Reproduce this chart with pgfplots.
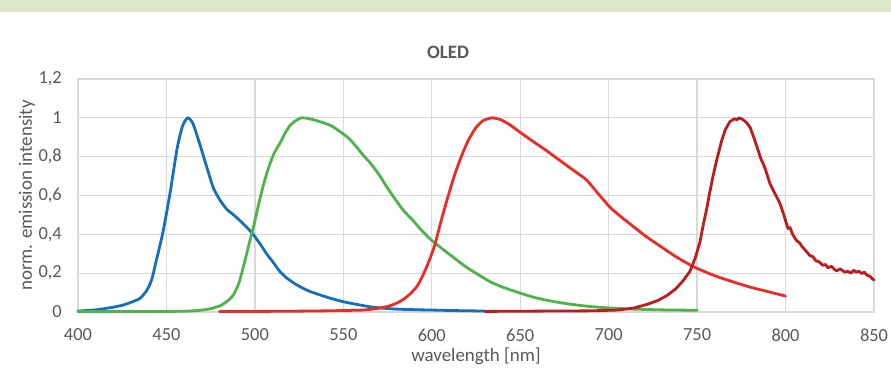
\documentclass[border=0pt]{standalone}
\usepackage{pgfplots}
\pgfplotsset{compat=1.18}
\usepackage{fontspec}
\setmainfont{Carlito}
\definecolor{bandcol}{RGB}{222,230,201}
\definecolor{gridgray}{RGB}{217,217,217}
\definecolor{txtgray}{RGB}{89,89,89}
\definecolor{cblue}{RGB}{23,110,190}
\definecolor{cgreen}{RGB}{76,180,72}
\definecolor{cred}{RGB}{237,42,36}
\definecolor{cdred}{RGB}{192,26,30}
\begin{document}
\begin{tikzpicture}[x=1bp,y=1bp]
\useasboundingbox (0,0) rectangle (891,372);
\fill[bandcol] (0,360) rectangle (891,372);
\node[font=\fontsize{19}{22}\selectfont\bfseries, text=txtgray] at (448,320) {OLED};
\begin{axis}[
  at={(78bp,60bp)}, anchor=south west,
  scale only axis, width=796bp, height=233bp,
  xmin=400, xmax=850, ymin=0, ymax=1.2,
  xtick={400,450,500,550,600,650,700,750,800,850},
  ytick={0,0.2,0.4,0.6,0.8,1,1.2},
  major tick length=0pt,
  grid=major,
  major grid style={draw=gridgray, line width=1.3bp},
  axis line style={draw=gridgray, line width=1.3bp},
  /pgf/number format/assume math mode=true,
  /pgf/number format/use comma,
  /pgf/number format/1000 sep={},
  tick label style={font=\fontsize{18.5}{21}\selectfont, text=txtgray},
  xticklabel style={anchor=center, yshift=-23bp},
  yticklabel style={anchor=east, inner sep=0pt, xshift=-16bp},
  xlabel={wavelength [nm]},
  ylabel={norm. emission intensity},
  every axis x label/.style={at={(axis description cs:0.5,-0.19)}, anchor=center, font=\fontsize{19}{22}\selectfont, text=txtgray},
  every axis y label/.style={at={(axis description cs:-0.0641,0.5)}, anchor=center, rotate=90, font=\fontsize{19}{22}\selectfont, text=txtgray},
  every axis plot/.append style={line width=2.8bp, line join=round, line cap=round, no markers},
  clip=false,
]
% blue
\addplot[cblue, smooth, tension=0.4] coordinates {
(400,0.005)(410,0.011)(420,0.025)(426,0.037)(430,0.05)(435,0.07)(438.8,0.11)(441.6,0.165)(444.4,0.27)(448,0.41)(452,0.61)(456,0.84)(459,0.955)(462,1.0)(465,0.97)(469,0.86)(473,0.74)(476.5,0.64)(480,0.58)(484,0.53)(488,0.50)(491.6,0.47)(495,0.44)(499,0.40)(503,0.35)(506.6,0.30)(510,0.26)(514,0.21)(518,0.175)(523.6,0.14)(530,0.11)(536.8,0.088)(543,0.07)(550,0.053)(557,0.04)(565,0.027)(572,0.02)(580,0.015)(590,0.012)(600,0.01)(615,0.007)(630,0.005)
};
% green
\addplot[cgreen, smooth, tension=0.4] coordinates {
(400,0.002)(420,0.002)(440,0.002)(460,0.004)(468,0.008)(474,0.015)(478,0.025)(481,0.035)(485,0.06)(488,0.09)(491,0.15)(494,0.25)(497,0.36)(499.5,0.45)(502,0.55)(505,0.66)(508,0.75)(511,0.82)(514.2,0.87)(517,0.92)(519.8,0.96)(523,0.985)(526.4,1.0)(531,0.995)(536.8,0.98)(543,0.96)(548,0.93)(553,0.895)(557.5,0.85)(561,0.81)(565,0.77)(570,0.71)(574.5,0.645)(579,0.585)(583.8,0.525)(589,0.475)(593.3,0.43)(598,0.385)(601.8,0.355)(610.3,0.295)(619.7,0.23)(633,0.156)(641,0.125)(650,0.097)(658,0.075)(667,0.057)(677,0.042)(687.5,0.03)(700,0.021)(714,0.015)(730,0.011)(750,0.009)
};
% red
\addplot[cred, smooth, tension=0.4] coordinates {
(480,0.003)(500,0.003)(520,0.004)(540,0.006)(561,0.01)(568,0.017)(574.5,0.027)(580,0.045)(584,0.065)(588,0.095)(591.5,0.13)(594,0.17)(597,0.23)(600,0.30)(602,0.355)(605,0.46)(608.4,0.57)(612,0.68)(615,0.76)(618,0.83)(621,0.89)(625,0.95)(629,0.985)(634,1.0)(639,0.99)(644,0.965)(650,0.925)(657,0.88)(665,0.83)(672.5,0.78)(680,0.73)(687.5,0.68)(694,0.61)(700.7,0.54)(707,0.49)(714,0.44)(721,0.39)(729,0.34)(738,0.285)(747.6,0.235)(755,0.205)(762,0.18)(770,0.156)(780,0.128)(790,0.105)(800,0.082)
};
% dark red
\addplot[cdred] coordinates {
(630,0.003)(650,0.004)(670,0.005)(690,0.006)(705,0.01)(714,0.02)(722,0.04)(728,0.06)(733,0.085)(738,0.12)(742,0.16)(746,0.21)(749,0.28)(751.6,0.36)(753.5,0.45)(755.4,0.53)(757,0.61)(759,0.70)(761,0.78)(763.8,0.88)(766,0.94)(768.5,0.98)(771,0.995)(772.5,0.99)(773.8,1.0)(775,0.995)(776,0.99)(778,0.975)(780,0.95)(782,0.90)(784.4,0.835)(786,0.79)(788,0.75)(789.5,0.71)(791.2,0.66)(794,0.61)(796.8,0.56)(799,0.50)(801.4,0.43)(802.5,0.435)(804,0.40)(806,0.37)(808,0.355)(809.5,0.335)(811,0.32)(813.8,0.29)(815.5,0.285)(817,0.265)(819,0.258)(821,0.24)(822.5,0.245)(824,0.228)(826,0.235)(827.5,0.22)(829,0.212)(830.8,0.222)(832,0.215)(833.5,0.205)(835,0.21)(837,0.2)(838.5,0.215)(840,0.205)(841.5,0.21)(843,0.198)(844.5,0.205)(846,0.19)(847.5,0.185)(849,0.172)(850,0.165)
};
\end{axis}
\end{tikzpicture}
\end{document}
